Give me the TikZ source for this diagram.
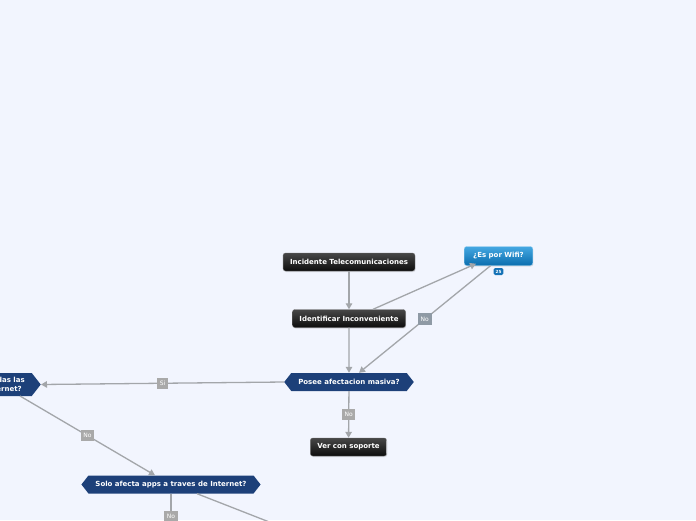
\documentclass[tikz,border=0pt]{standalone}
\usepackage{fontspec}
\setmainfont{DejaVu Sans}
\usetikzlibrary{shapes.symbols,calc,arrows.meta,shadows}
\definecolor{bg}{HTML}{F2F5FE}
\definecolor{hexblue}{HTML}{1D4079}
\definecolor{linegray}{HTML}{A3A6AA}
\definecolor{lblgray}{HTML}{A9A9A9}
\definecolor{lblblue}{HTML}{8F9AA5}
\definecolor{wifitop}{HTML}{45A8E2}
\definecolor{wifibot}{HTML}{0A6DAE}
\definecolor{badge}{HTML}{1572B6}
\begin{document}
\begin{tikzpicture}[x=1pt,y=-1pt,
  nodefont/.style={font=\bfseries\fontsize{7}{8}\selectfont},
  blackbox/.style={nodefont, rounded corners=2.5pt, top color=black!72, bottom color=black!95,
    draw=black!55, text=white, minimum height=18pt, inner xsep=7pt, inner ysep=2pt,
    drop shadow={opacity=0.25, shadow xshift=0.6pt, shadow yshift=-1pt}},
  hexbox/.style={nodefont, signal, signal to=west and east, signal pointer angle=104,
    fill=hexblue, text=white, minimum height=18pt, inner xsep=7pt, inner ysep=2pt},
  wifibox/.style={nodefont, rounded corners=2.5pt, top color=wifitop, bottom color=wifibot,
    draw=wifitop!60, text=white, minimum height=19pt, inner xsep=9pt,
    drop shadow={opacity=0.2, shadow xshift=0.6pt, shadow yshift=-1pt}},
  conn/.style={draw=linegray, line width=1.3pt, -{Triangle[length=6pt,width=6.5pt]}},
  lbl/.style={fill=lblgray, text=white, font=\fontsize{6}{6}\selectfont, inner xsep=2.5pt,
    inner ysep=0pt, minimum height=11pt},
  lblb/.style={lbl, fill=lblblue, minimum height=12pt, inner xsep=3pt},
  badgebox/.style={fill=badge, text=white, rounded corners=1.5pt, font=\bfseries\fontsize{4.2}{5}\selectfont,
    inner xsep=2pt, inner ysep=0pt, minimum height=7pt}
]
\useasboundingbox (0,0) rectangle (696,520);
\fill[bg] (0,0) rectangle (696,520);

\node[blackbox] (inc) at (349,262) {Incidente Telecomunicaciones};
\node[blackbox] (ident) at (349,318.5) {Identificar Inconveniente};
\node[wifibox] (wifi) at (498.5,256) {¿Es por Wifi?};
\node[badgebox] (badge) at (498.5,271.5) {25};
\node[hexbox] (posee) at (349,382) {Posee afectacion masiva?};
\node[blackbox] (ver) at (348.5,447) {Ver con soporte};
\node[hexbox, anchor=east, align=right, text width=110pt, minimum height=23pt,
  font=\bfseries\fontsize{7}{9}\selectfont] (afecta) at (41,384.5) {das las\\ernet?\hspace*{3pt}};
\node[hexbox] (solo) at (171,484.5) {Solo afecta apps a traves de Internet?};

\coordinate (solodown) at (171,545);
\coordinate (soloright) at (300,534);

\draw[conn] (inc) -- (ident);
\draw[conn] ($(ident.north)+(24,0)$) -- ($(wifi.south west)+(12,-2)$);
\draw[conn] ($(wifi.south)+(-8,0)$) -- node[lblb]{No} ($(posee.north)+(10,0)$);
\draw[conn] (ident) -- (posee);
\draw[conn] (posee.west) -- node[lbl]{Si} (afecta.east);
\draw[conn] (posee) -- node[lbl]{No} (ver);
\draw[conn] ($(afecta.east)+(-21,11.5)$) -- node[lbl]{No} ($(solo.north)+(-16,0)$);
\draw[conn] (solo.south) -- node[lbl, pos=0.45]{No} (solodown);
\draw[conn] ($(solo.south)+(26,0)$) -- (soloright);
\end{tikzpicture}
\end{document}
